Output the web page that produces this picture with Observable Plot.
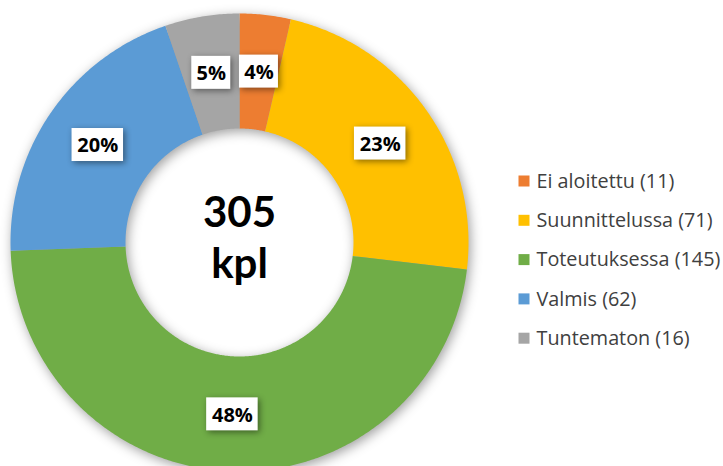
<!DOCTYPE html>
<html>
<head>
<meta charset="utf-8">
<script src="https://cdn.jsdelivr.net/npm/d3@7"></script>
<script src="https://cdn.jsdelivr.net/npm/@observablehq/plot@0.6"></script>
<style>
  html, body { margin: 0; padding: 0; background: #fff; }
  #chart svg { display: block; }
  #chart g[aria-label="line"] { filter: drop-shadow(2px 3px 6px rgba(0,0,0,0.38)); }
  #chart g.labelbox { filter: drop-shadow(2px 2px 3px rgba(0,0,0,0.45)); }
</style>
</head>
<body>
<div id="chart"></div>
<script>
// ---- data ----
const names = ["Ei aloitettu", "Suunnittelussa", "Toteutuksessa", "Valmis", "Tuntematon"];
const counts = [11, 71, 145, 62, 16];
const percentLabels = ["4%", "23%", "48%", "20%", "5%"];
const colors = ["#ED7D31", "#FFC000", "#70AD47", "#5B9BD5", "#A5A5A5"];
const centerLines = ["305", "kpl"];

// ---- geometry (units = pixels, origin at donut centre, y downward) ----
const R_OUT = 229, R_IN = 114, R_LABEL = 172;
const rows = names.map((name, i) => ({name, count: counts[i], label: percentLabels[i], legend: `${name} (${counts[i]})`}));
const arcs = d3.pie().sort(null).value(d => d.count)(rows);

const ring = [];
for (const a of arcs) {
  const n = Math.max(8, Math.ceil((a.endAngle - a.startAngle) / (Math.PI / 360)));
  for (let k = 0; k <= n; k++) {
    const t = a.startAngle + (a.endAngle - a.startAngle) * k / n;
    ring.push({name: a.data.name, x: R_OUT * Math.sin(t), y: -R_OUT * Math.cos(t)});
  }
  for (let k = n; k >= 0; k--) {
    const t = a.startAngle + (a.endAngle - a.startAngle) * k / n;
    ring.push({name: a.data.name, x: R_IN * Math.sin(t), y: -R_IN * Math.cos(t)});
  }
}

const labels = arcs.map(a => {
  const m = (a.startAngle + a.endAngle) / 2;
  const x = R_LABEL * Math.sin(m), y = -R_LABEL * Math.cos(m);
  const w = 14 + 12.5 * a.data.label.length, h = 33;
  return {label: a.data.label, x, y, x1: x - w / 2, x2: x + w / 2, y1: y - h / 2, y2: y + h / 2};
});

const LEG_X = 285, LEG_Y0 = -61, LEG_DY = 39.3, SQ = 5.5;
const legend = rows.map((d, i) => ({
  name: d.name, text: d.legend,
  x: LEG_X, y: LEG_Y0 + i * LEG_DY
}));

const center = [{text: centerLines.join("\n"), x: 0, y: -6}];

const chart = Plot.plot({
  width: 723,
  height: 466,
  margin: 0,
  x: {domain: [-239, 484], range: [0, 723], axis: null},
  y: {domain: [-242, 224], range: [0, 466], axis: null},
  color: {domain: names, range: colors},
  style: {fontFamily: "'Open Sans', sans-serif", background: "#fff"},
  marks: [
    Plot.line(ring, {x: "x", y: "y", z: "name", fill: "name", stroke: "none", curve: "linear-closed"}),
    Plot.rect(labels, {x1: "x1", x2: "x2", y1: "y1", y2: "y2", fill: "white", className: "labelbox"}),
    Plot.text(labels, {x: "x", y: "y", text: "label", fontSize: 20, fontWeight: 700, fill: "#000", dy: 1}),
    Plot.text(center, {x: "x", y: "y", text: "text", fontSize: 42, lineHeight: 1.2, fontWeight: 700, fontFamily: "Lato, sans-serif", fill: "#000"}),
    Plot.rect(legend, {x1: d => d.x - SQ, x2: d => d.x + SQ, y1: d => d.y - SQ, y2: d => d.y + SQ, fill: "name"}),
    Plot.text(legend, {x: d => d.x + 12, y: "y", text: "text", textAnchor: "start", fontSize: 19.8, fill: "#404040"})
  ]
});
document.getElementById("chart").appendChild(chart);
</script>
</body>
</html>
